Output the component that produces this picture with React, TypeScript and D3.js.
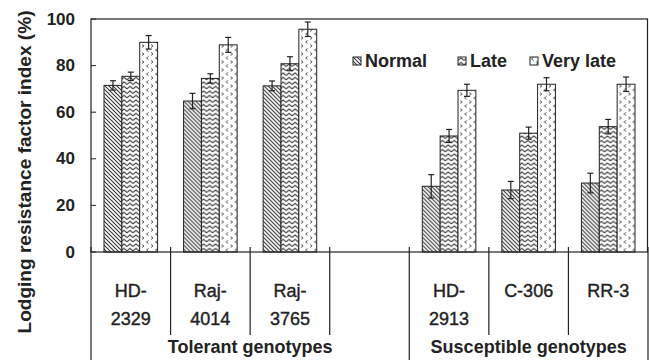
import React from "react";
import * as d3 from "d3";

// genotypes (the empty slot splits the two groups)
const genotypes = ["HD-2329", "Raj-4014", "Raj-3765", "gap", "HD-2913", "C-306", "RR-3"];
const genotypeLines = [["HD-", "2329"], ["Raj-", "4014"], ["Raj-", "3765"], [], ["HD-", "2913"], ["C-306"], ["RR-3"]];
const series = ["Normal", "Late", "Very late"];

const normal = [71.5, 64.8, 71.3, null, 28.2, 26.6, 29.6];
const late = [75.4, 74.5, 80.8, null, 49.8, 51.0, 53.8];
const veryLate = [90.0, 88.9, 95.6, null, 69.4, 72.0, 72.0];

const normalErr = [2.0, 3.3, 2.1, null, 5.0, 3.7, 4.2];
const lateErr = [1.8, 2.0, 3.0, null, 2.8, 2.6, 3.1];
const veryLateErr = [2.9, 3.2, 3.1, null, 2.6, 2.8, 3.1];

const groups = [
  { label: "Tolerant genotypes", from: "HD-2329", to: "gap" },
  { label: "Susceptible genotypes", from: "HD-2913", to: "RR-3" },
];

const yTicks = [0, 20, 40, 60, 80, 100];

const width = 649;
const height = 360;
const left = 91;
const right = 648;
const top = 19;
const bottom = 252;
const font = "'Liberation Sans', Arial, sans-serif";
const ink = "#222";

const values = [normal, late, veryLate];
const errors = [normalErr, lateErr, veryLateErr];
const patternIds = ["p-normal", "p-late", "p-vlate"];
const legendX = [353, 458, 530];

export default function App() {
  const x = d3.scaleBand().domain(genotypes).range([left, right]).padding(0);
  const bw = x.bandwidth();
  const xs = d3.scaleBand().domain(series).range([13, bw - 13]).padding(0);
  const y = d3.scaleLinear().domain([0, 100]).range([bottom, top]);

  // group boundaries run to the bottom edge, the rest stop short
  const longLines = new Set([0, 4, 7]);
  const boundaries = d3.range(genotypes.length + 1).map(i => left + i * bw);

  return (
    <svg width={width} height={height} style={{ position: "fixed", left: 0, top: 0, background: "#fff" }}
      fontFamily={font}>
      <defs>
        <pattern id="p-normal" patternUnits="userSpaceOnUse" width="4" height="4">
          <rect width="4" height="4" fill="#fff" />
          <path d="M0,0L4,4M-1,3L1,5M3,-1L5,1" stroke="#333" strokeWidth="1.1" />
        </pattern>
        <pattern id="p-late" patternUnits="userSpaceOnUse" width="6" height="4.5">
          <rect width="6" height="4.5" fill="#fff" />
          <path d="M0,3.5L3,1L6,3.5" stroke="#333" strokeWidth="1.1" fill="none" />
        </pattern>
        <pattern id="p-vlate" patternUnits="userSpaceOnUse" width="9" height="8">
          <rect width="9" height="8" fill="#fff" />
          <path d="M3.5,0.5L1.5,2L3.5,3.5" stroke="#555" strokeWidth="1" fill="none" />
          <path d="M6,4.5L8,6L6,7.5" stroke="#555" strokeWidth="1" fill="none" />
        </pattern>
      </defs>

      {/* y title */}
      <text transform={`translate(25,172) rotate(-90)`} textAnchor="middle" dominantBaseline="central"
        fontSize="18" fontWeight="bold" fill={ink} textLength="323" lengthAdjust="spacingAndGlyphs">
        Lodging resistance factor index (%)
      </text>

      {/* y ticks */}
      {yTicks.map(t => (
        <g key={t}>
          <line x1={left} x2={left + 5} y1={y(t)} y2={y(t)} stroke={ink} />
          <text x={75} y={y(t)} textAnchor="end" dominantBaseline="central" fontSize="17" fontWeight="bold" fill={ink}>
            {t}
          </text>
        </g>
      ))}

      {/* bars */}
      {genotypes.map((g, gi) => (
        <g key={g} transform={`translate(${x(g)},0)`}>
          {series.map((s, si) => {
            const v = values[si][gi];
            const e = errors[si][gi];
            if (v == null) return null;
            const bx = xs(s)!;
            const cx = bx + xs.bandwidth() / 2;
            return (
              <g key={s}>
                <rect x={bx} y={y(v)} width={xs.bandwidth()} height={y(0) - y(v)}
                  fill={`url(#${patternIds[si]})`} stroke={ink} strokeWidth="1" />
                <line x1={cx} x2={cx} y1={y(v + e!)} y2={y(v - e!)} stroke={ink} strokeWidth="1.2" />
                <line x1={cx - 3} x2={cx + 3} y1={y(v + e!)} y2={y(v + e!)} stroke={ink} strokeWidth="1.2" />
                <line x1={cx - 3} x2={cx + 3} y1={y(v - e!)} y2={y(v - e!)} stroke={ink} strokeWidth="1.2" />
              </g>
            );
          })}
        </g>
      ))}

      {/* frame */}
      <rect x={left} y={top} width={right - left - 0.5} height={bottom - top} fill="none" stroke={ink} strokeWidth="1.2" />

      {/* category separators */}
      {boundaries.map((bx, i) => (
        <line key={i} x1={bx} x2={bx} y1={bottom - 5}
          y2={longLines.has(i) ? height : 335} stroke={ink} strokeWidth="1.2" />
      ))}

      {/* genotype labels */}
      {genotypes.map((g, gi) => (
        <text key={g} x={x(g)! + bw / 2} textAnchor="middle" fontSize="18" fill={ink}
          stroke={ink} strokeWidth="0.4">
          {genotypeLines[gi].map((ln, li) => (
            <tspan key={li} x={x(g)! + bw / 2} y={297 + li * 28}>{ln}</tspan>
          ))}
        </text>
      ))}

      {/* group labels */}
      {groups.map(gr => {
        const x0 = x(gr.from)!;
        const x1 = x(gr.to)! + bw;
        return (
          <text key={gr.label} x={(x0 + x1) / 2} y={353} textAnchor="middle" fontSize="18" fontWeight="bold" fill={ink}>
            {gr.label}
          </text>
        );
      })}

      {/* legend */}
      {series.map((s, si) => (
        <g key={s} transform={`translate(${legendX[si]},57)`}>
          <rect width="8" height="8" fill={`url(#${patternIds[si]})`} stroke={ink} strokeWidth="1" />
          <text x={12} y={9.5} fontSize="18" fontWeight="bold" fill={ink}>{s}</text>
        </g>
      ))}
    </svg>
  );
}
